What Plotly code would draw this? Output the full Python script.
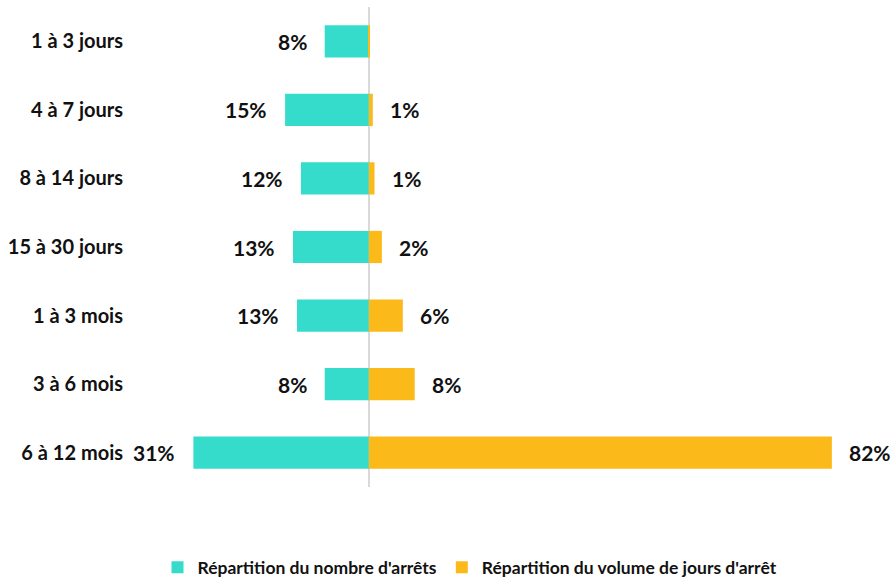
import plotly.graph_objects as go

categories = ["1 à 3 jours", "4 à 7 jours", "8 à 14 jours", "15 à 30 jours",
              "1 à 3 mois", "3 à 6 mois", "6 à 12 mois"]
nombre_arrets = [7.8, 14.8, 12.0, 13.4, 12.7, 7.8, 31.0]
nombre_labels = ["8%", "15%", "12%", "13%", "13%", "8%", "31%"]
volume_jours = [0.2, 0.7, 1.0, 2.3, 6.0, 8.1, 81.8]
volume_labels = ["", "1%", "1%", "2%", "6%", "8%", "82%"]

teal = "#36DCCB"
orange = "#FBBA1A"
font_family = "Lato, 'Open Sans', sans-serif"

fig = go.Figure()
fig.add_trace(go.Bar(
    y=categories, x=[-v for v in nombre_arrets], orientation="h",
    name="<b>Répartition du nombre d'arrêts</b>", marker=dict(color=teal, line=dict(width=0)),
    width=0.47, hoverinfo="skip",
))
fig.add_trace(go.Bar(
    y=categories, x=volume_jours, orientation="h",
    name="<b>Répartition du volume de jours d'arrêt</b>", marker=dict(color=orange, line=dict(width=0)),
    width=0.47, hoverinfo="skip",
))

for c, v, t in zip(categories, nombre_arrets, nombre_labels):
    fig.add_annotation(x=-v, y=c, text=f"<b>{t}</b>", showarrow=False,
                       xanchor="right", xshift=-16,
                       font=dict(size=21, color="#111111", family=font_family))
for c, v, t in zip(categories, volume_jours, volume_labels):
    if t:
        fig.add_annotation(x=v, y=c, text=f"<b>{t}</b>", showarrow=False,
                           xanchor="left", xshift=15,
                           font=dict(size=21, color="#111111", family=font_family))

fig.update_layout(
    width=893, height=579,
    margin=dict(l=130, r=0, t=7, b=92, autoexpand=False),
    paper_bgcolor="white", plot_bgcolor="white",
    barmode="overlay",
    showlegend=True,
    legend=dict(orientation="h", x=0.4456, xanchor="center", y=-0.205, yanchor="bottom",
                font=dict(size=17.5, color="#111111", family=font_family),
                itemwidth=30, traceorder="normal"),
    font=dict(family=font_family),
)
fig.update_xaxes(range=[-42.2, 92.6], showticklabels=False, showgrid=False, automargin=False,
                 zeroline=True, zerolinecolor="#D9D9D9", zerolinewidth=2, fixedrange=True)
fig.update_yaxes(autorange="reversed", showgrid=False, ticks="", ticklabelstandoff=6, automargin=False,
                 fixedrange=True,
                 tickfont=dict(size=20, color="#111111", family=font_family),
                 tickprefix="<b>", ticksuffix="</b>")

fig.write_html("out.html", config={"displayModeBar": False},
               post_script="document.body.style.margin='0';document.body.style.overflow='hidden';")
